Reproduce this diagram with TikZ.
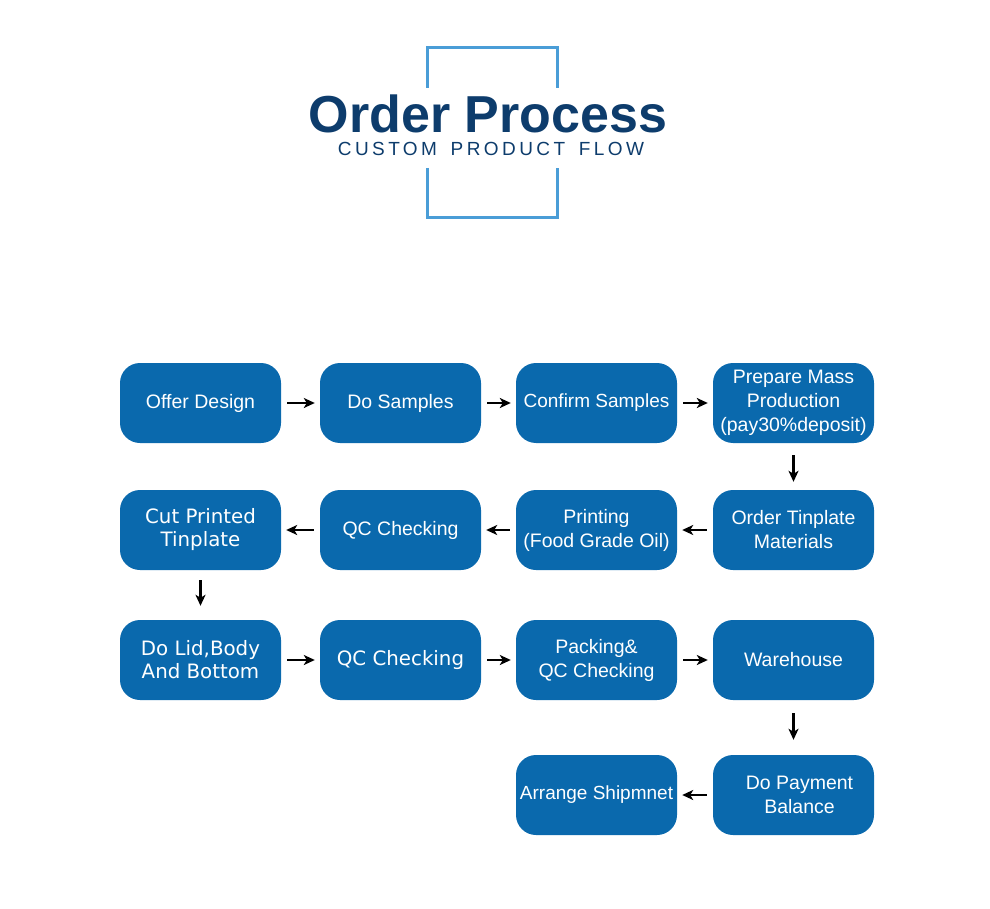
\documentclass[tikz,border=0pt]{standalone}
\usepackage{fontspec}
\setmainfont{Liberation Sans}
\newfontfamily\dvs{DejaVu Sans}
\usetikzlibrary{arrows.meta}
\definecolor{boxblue}{HTML}{0A69AD}
\definecolor{navy}{HTML}{0D3C6C}
\definecolor{frameblue}{HTML}{4A9DD7}
\begin{document}
\begin{tikzpicture}[x=1pt,y=-1pt,
  box/.style={rectangle, rounded corners=20pt, fill=boxblue, minimum width=161pt, minimum height=80pt,
    text=white, align=center, font=\fontsize{19.5}{24}\selectfont, inner sep=0pt},
  wide/.style={font=\dvs\fontsize{19.8}{23}\selectfont},
  arr/.style={-{Stealth[length=11pt,width=10pt,inset=3pt]}, line width=2.2pt, black},
  hx/.style={shorten <=6pt, shorten >=5pt},
  frameline/.style={frameblue, line width=3pt}]
\useasboundingbox (0,0) rectangle (990,909);
% title frame
\draw[frameline] (427,88) -- (427,48) -- (557,48) -- (557,88);
\draw[frameline] (427,168) -- (427,218) -- (557,218) -- (557,168);
\node[anchor=base, text=navy, font=\bfseries\fontsize{52}{52}\selectfont, inner sep=0pt] (title) at (488,133) {Order Process};
\node[anchor=base, text=navy, font=\addfontfeature{LetterSpace=18}\fontsize{19}{20}\selectfont, inner sep=0pt] (sub) at (491,156) {CUSTOM\hspace{5pt} PRODUCT\hspace{5pt} FLOW};
% row 1
\node[box] (a1) at (200.5,403) {Offer Design};
\node[box] (a2) at (400.5,403) {Do Samples};
\node[box, font=\fontsize{19}{24}\selectfont] (a3) at (596.5,403) {Confirm Samples};
\node[box] (a4) at (793.5,403) {Prepare Mass\\Production\\(pay30\%deposit)};
% row 2
\node[box, wide] (b1) at (200.5,530) {Cut Printed\\Tinplate};
\node[box] (b2) at (400.5,530) {QC Checking};
\node[box] (b3) at (596.5,530) {Printing\\(Food Grade Oil)};
\node[box] (b4) at (793.5,530) {Order Tinplate\\Materials};
% row 3
\node[box, wide] (c1) at (200.5,660) {Do Lid,Body\\And Bottom};
\node[box, wide] (c2) at (400.5,660) {QC Checking};
\node[box] (c3) at (596.5,660) {Packing\&\\QC Checking};
\node[box] (c4) at (793.5,660) {Warehouse};
% row 4
\node[box, font=\fontsize{19}{24}\selectfont] (d3) at (596.5,795) {Arrange Shipmnet};
\node[box] (d4) at (793.5,795) {\hspace*{12pt}Do Payment\\\hspace*{12pt}Balance};
% arrows
\draw[arr, hx] (a1.east) -- (a2.west);
\draw[arr, hx] (a2.east) -- (a3.west);
\draw[arr, hx] (a3.east) -- (a4.west);
\draw[arr, shorten <=12pt, shorten >=8pt] (a4.south) -- (b4.north);
\draw[arr, hx] (b4.west) -- (b3.east);
\draw[arr, hx] (b3.west) -- (b2.east);
\draw[arr, hx] (b2.west) -- (b1.east);
\draw[arr, shorten <=10pt, shorten >=14pt] (b1.south) -- (c1.north);
\draw[arr, hx] (c1.east) -- (c2.west);
\draw[arr, hx] (c2.east) -- (c3.west);
\draw[arr, hx] (c3.east) -- (c4.west);
\draw[arr, shorten <=13pt, shorten >=15pt] (c4.south) -- (d4.north);
\draw[arr, hx] (d4.west) -- (d3.east);
\end{tikzpicture}
\end{document}
